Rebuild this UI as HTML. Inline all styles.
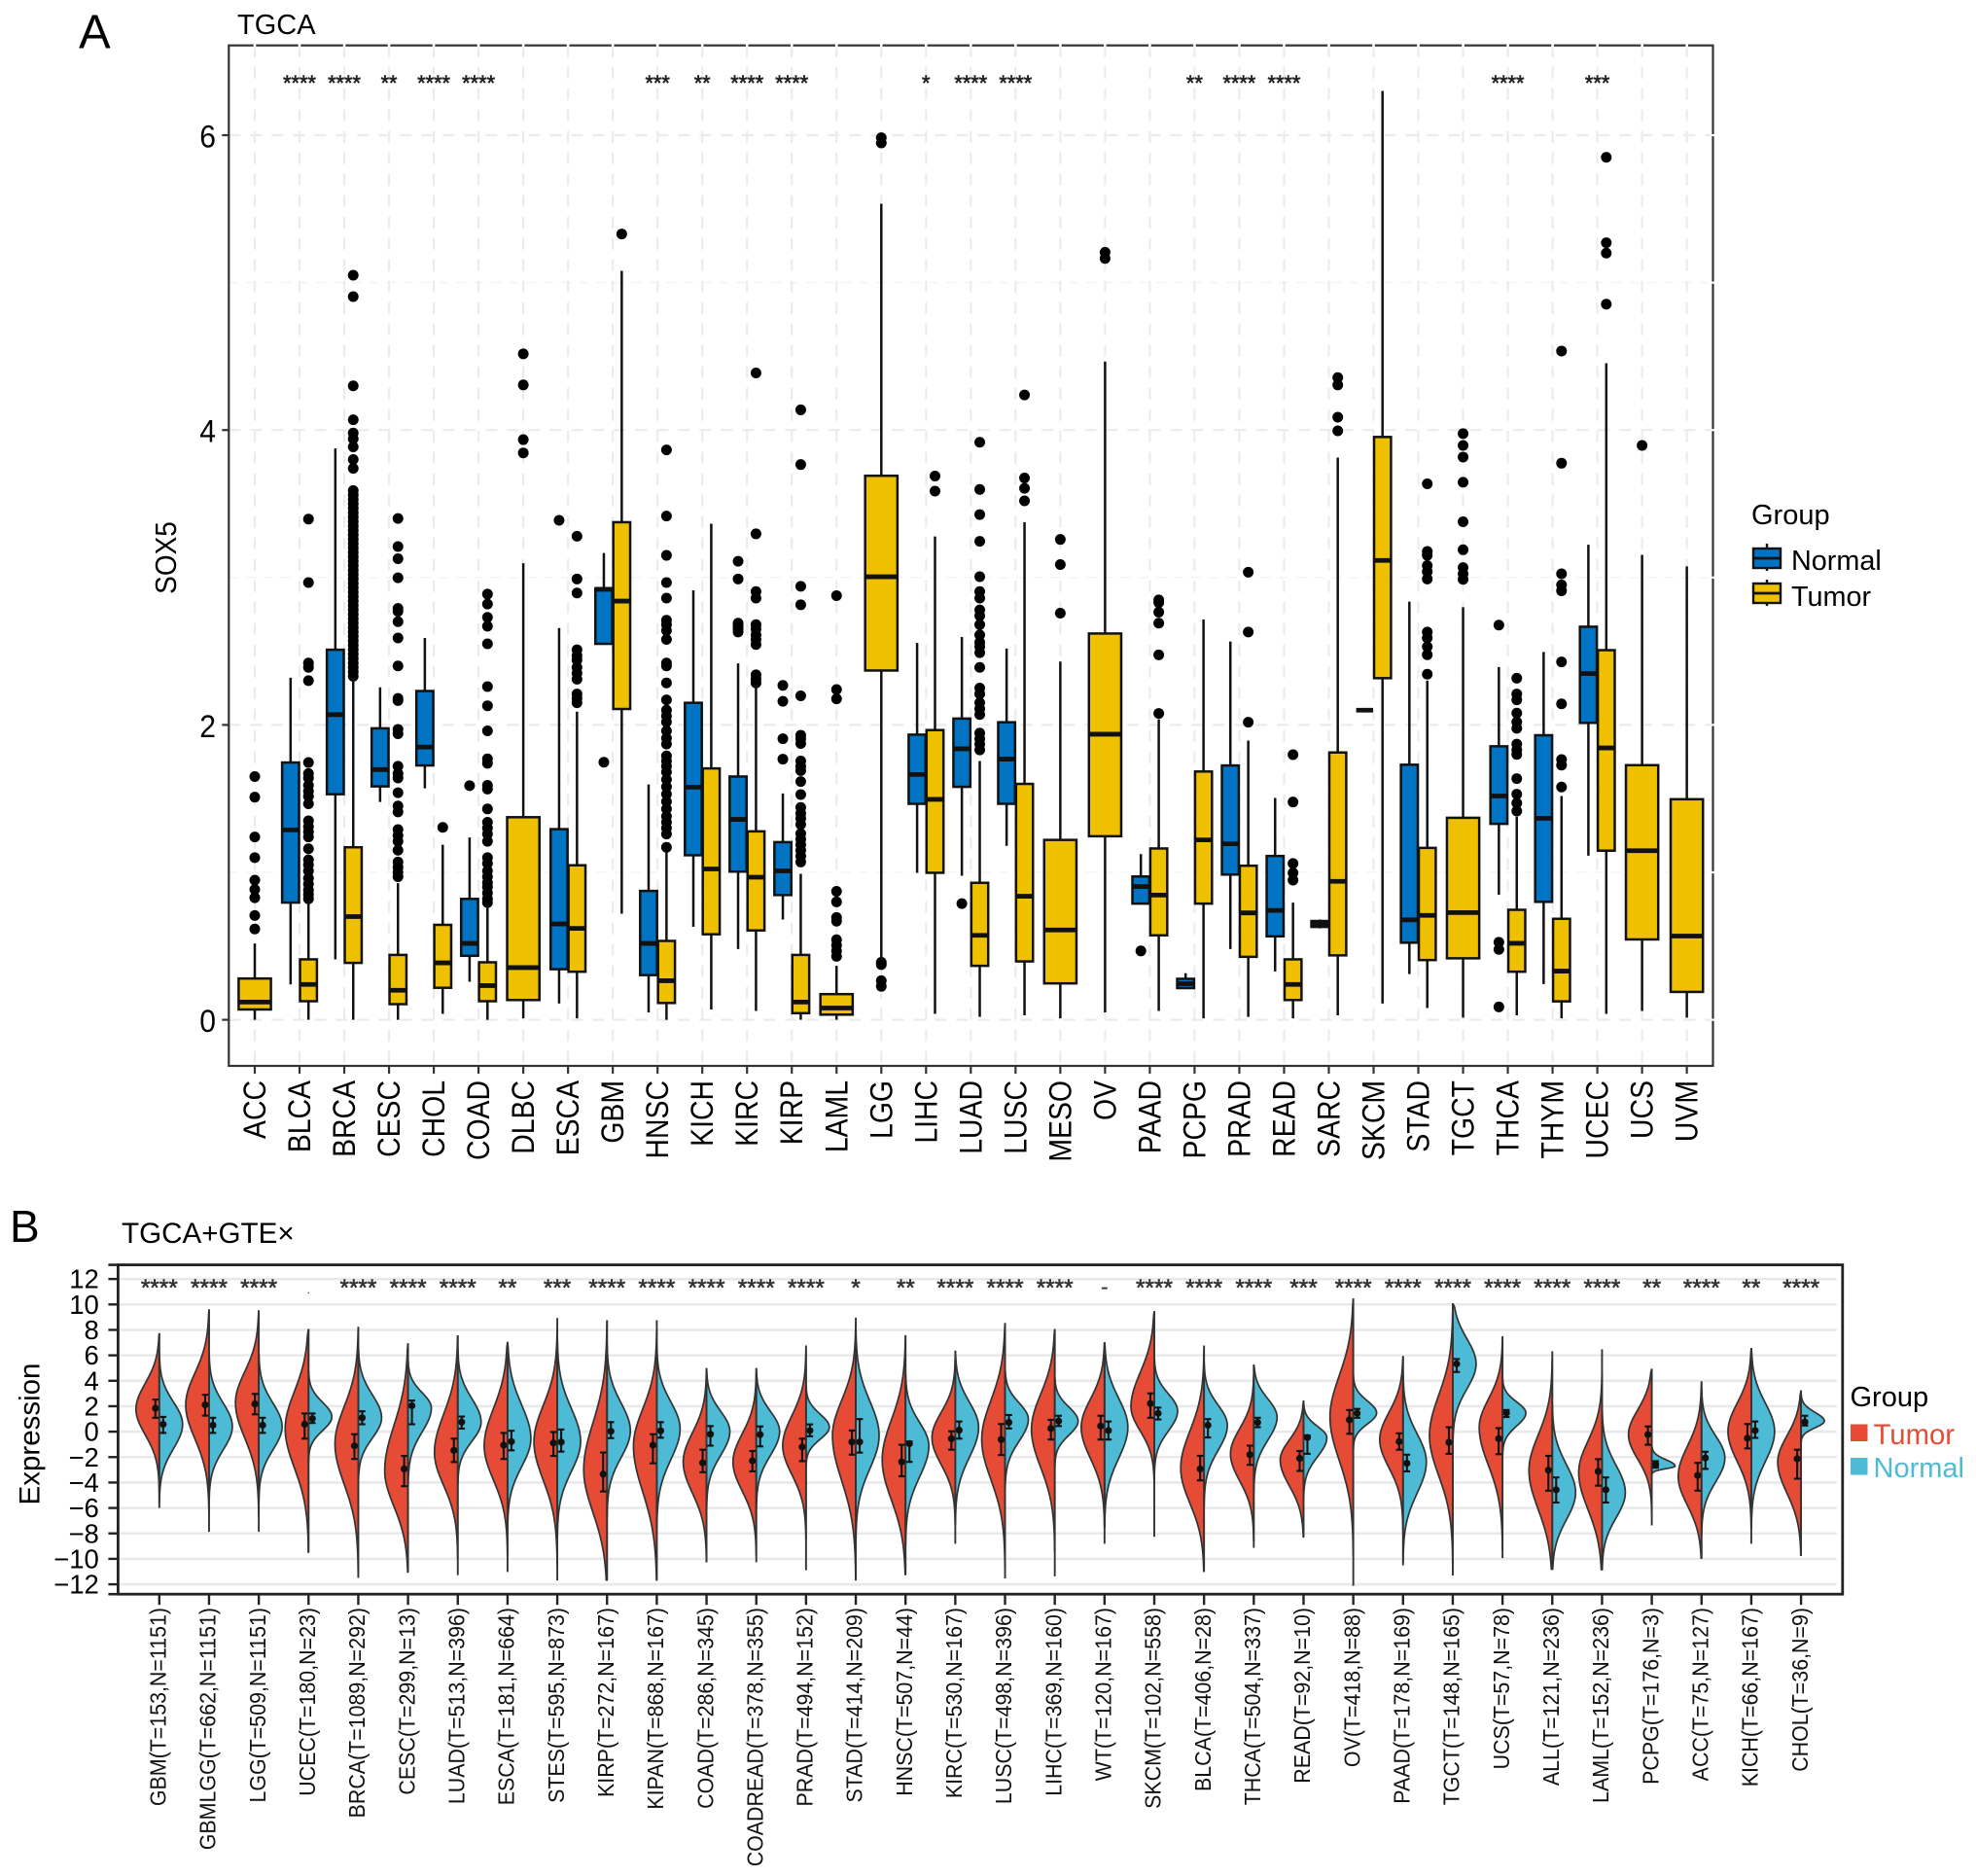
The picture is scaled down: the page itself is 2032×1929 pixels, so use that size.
<!DOCTYPE html>
<html lang="en">
<head>
<meta charset="utf-8">
<title>SOX5 expression: TGCA and TGCA+GTEx</title>
<style>
html,body{margin:0;padding:0;background:#fff;}
svg{display:block;font-family:"Liberation Sans",Arial,sans-serif;}
</style>
</head>
<body>
<svg id="figure" xmlns="http://www.w3.org/2000/svg" width="2032" height="1929" viewBox="0 0 2032 1929">
<rect x="0" y="0" width="2032" height="1929" fill="#fff"/>
<text x="81" y="49.5" font-size="49" fill="#000">A</text>
<text x="244" y="35" font-size="29" fill="#000">TGCA</text>
<text transform="translate(181,573.5) rotate(-90) scale(1,1.1)" text-anchor="middle" font-size="28" fill="#000">SOX5</text>
<g id="panelA"></g>
<g>
<text x="1801" y="539" font-size="29" fill="#000">Group</text>
<line x1="1817" x2="1817" y1="559" y2="587" stroke="#111" stroke-width="2.4"/>
<rect x="1803" y="564" width="28" height="20" fill="#0073C2" stroke="#111" stroke-width="2.4"/>
<line x1="1803" x2="1831" y1="574" y2="574" stroke="#111" stroke-width="2.8"/>
<text x="1842" y="586" font-size="28.8" fill="#000">Normal</text>
<line x1="1817" x2="1817" y1="596" y2="623" stroke="#111" stroke-width="2.4"/>
<rect x="1803" y="600" width="28" height="20" fill="#EFC000" stroke="#111" stroke-width="2.4"/>
<line x1="1803" x2="1831" y1="610" y2="610" stroke="#111" stroke-width="2.8"/>
<text x="1842" y="623" font-size="28.8" fill="#000">Tumor</text>
</g>
<text x="10" y="1277" font-size="46" fill="#000">B</text>
<text x="125" y="1278" font-size="29.6" fill="#000">TGCA+GTE×</text>
<text transform="translate(40.5,1474.5) rotate(-90)" text-anchor="middle" font-size="29.5" fill="#000">Expression</text>
<g id="panelB"></g>
<g>
<text x="1902.5" y="1446" font-size="29" fill="#000">Group</text>
<rect x="1903" y="1464.5" width="17.5" height="17.5" fill="#E64B35"/>
<text x="1926.5" y="1485" font-size="29.3" fill="#E64B35">Tumor</text>
<rect x="1903" y="1499" width="17.5" height="17.5" fill="#4DBBD5"/>
<text x="1926.5" y="1519" font-size="29" fill="#4DBBD5">Normal</text>
</g>
<script>
/* ---------- Panel A data ---------- */
const categoriesA = ["ACC","BLCA","BRCA","CESC","CHOL","COAD","DLBC","ESCA","GBM","HNSC","KICH","KIRC","KIRP","LAML","LGG","LIHC","LUAD","LUSC","MESO","OV","PAAD","PCPG","PRAD","READ","SARC","SKCM","STAD","TGCT","THCA","THYM","UCEC","UCS","UVM"];
const yTicksA = [0,2,4,6];
const yMinorA = [1,3,5];
const sigLabelsA = ["","****","****","**","****","****","","","","***","**","****","****","","","*","****","****","","","","**","****","****","","","","","****","","***","",""];

const normalLow = [null,.24,.41,1.477,1.57,.258,null,.11,2.55,.05,.631,.48,.68,null,null,.997,.977,1.18,null,null,.788,.215,.48,.328,.62,2.1,.31,null,.848,.242,1.113,null,null];
const normalQ1 = [null,.795,1.53,1.583,1.725,.434,null,.343,2.55,.303,1.116,1.005,.846,null,null,1.465,1.58,1.465,null,null,.788,.215,.985,.566,.63,2.1,.523,null,1.329,.8,2.014,null,null];
const normalMedian = [null,1.288,2.07,1.697,1.85,.518,null,.65,2.92,.518,1.578,1.359,1.01,null,null,1.664,1.838,1.768,null,null,.904,.245,1.194,.742,.65,2.1,.678,null,1.518,1.367,2.348,null,null];
const normalQ3 = [null,1.745,2.51,1.977,2.23,.82,null,1.293,2.927,.874,2.15,1.65,1.205,null,null,1.934,2.043,2.018,null,null,.972,.278,1.725,1.111,.67,2.1,1.73,null,1.855,1.93,2.666,null,null];
const normalHigh = [null,2.32,3.875,2.255,2.59,1.237,null,2.657,3.166,1.596,2.913,2.417,1.535,null,null,2.556,2.596,2.518,null,null,1.124,.316,2.566,1.505,.68,2.1,2.836,null,2.393,2.495,3.222,null,null];

const tumorLow = [0,0,0,0,.04,0,.01,.01,.72,0,.07,.06,0,0,.404,.04,.02,.03,.01,.05,.06,.01,.02,.01,.03,.11,.08,.015,.03,.01,.04,.06,.015];
const tumorQ1 = [.07,.126,.386,.106,.217,.126,.134,.326,2.108,.114,.58,.606,.045,.035,2.369,.997,.366,.396,.247,1.245,.573,.788,.427,.134,.437,2.317,.405,.417,.326,.125,1.147,.545,.189];
const tumorMedian = [.12,.24,.7,.2,.386,.232,.354,.62,2.84,.265,1.023,.967,.12,.08,3.005,1.495,.573,.838,.609,1.937,.846,1.22,.725,.24,.939,3.116,.708,.727,.519,.33,1.844,1.147,.568];
const tumorQ3 = [.28,.41,1.17,.44,.644,.39,1.374,1.048,3.375,.535,1.705,1.278,.44,.174,3.69,1.965,.929,1.6,1.22,2.62,1.162,1.684,1.045,.41,1.813,3.953,1.166,1.37,.746,.685,2.507,1.727,1.496];
const tumorHigh = [.518,.81,2.32,.927,1.187,.778,3.097,2.09,5.08,1.136,3.365,2.27,.99,.366,5.535,3.278,1.755,3.375,2.43,4.465,2.038,2.715,1.894,.795,3.813,6.3,2.3,2.798,1.378,1.518,4.453,3.154,3.075];

const normalOutliers = [[],[],[],[],[],[1.588],[],[3.388],[1.747],[],[],[3.11,2.99,2.69,2.67,2.65,2.63],[2.268,2.16,1.906,1.768],[],[],[],[.788],[],[],[],[.467],[],[],[],[],[],[],[],[2.677,.526,.477,.087],[],[],[],[]];
const tumorOutliers = [
[1.65,1.51,1.24,1.10,.947,.884,.828,.707,.616],
[3.396,2.966,2.42,2.39,2.30,1.745,1.67,1.64,1.59,1.55,1.515,1.465,1.35,1.31,1.275,1.24,1.16,1.085,1.05,1.01,.96,.92,.88,.85,.82],
[5.05,4.905,4.30,4.07,3.98,3.94,3.886,3.80,3.74,3.59,3.56,3.53,3.50,3.47,3.44,3.41,3.38,3.35,3.32,3.29,3.26,3.23,3.20,3.17,3.14,3.11,3.08,3.05,3.02,2.99,2.96,2.93,2.90,2.87,2.84,2.81,2.78,2.75,2.72,2.69,2.66,2.63,2.60,2.57,2.54,2.51,2.48,2.45,2.42,2.39,2.36,2.33],
[3.40,3.21,3.127,2.998,2.79,2.77,2.70,2.59,2.40,2.18,2.165,1.97,1.94,1.72,1.67,1.64,1.54,1.45,1.41,1.29,1.25,1.21,1.15,1.07,1.035,1.0,.97],
[1.305],
[2.887,2.82,2.73,2.67,2.55,2.26,2.13,1.96,1.77,1.74,1.59,1.565,1.43,1.34,1.30,1.26,1.21,1.10,1.06,1.01,.97,.93,.90,.86,.82,.795],
[4.517,4.306,3.935,3.845],
[3.28,2.99,2.895,2.51,2.47,2.44,2.39,2.35,2.31,2.21,2.18,2.15],
[5.33],
[3.865,3.417,3.15,2.966,2.86,2.71,2.68,2.64,2.58,2.42,2.40,2.285,2.17,2.10,2.06,2.02,1.96,1.91,1.87,1.79,1.755,1.72,1.68,1.63,1.58,1.53,1.48,1.43,1.38,1.34,1.30,1.26,1.17],
[],
[4.387,3.296,2.905,2.86,2.68,2.65,2.61,2.58,2.545,2.34,2.31,2.285],
[4.137,3.766,2.94,2.815,2.197,1.93,1.906,1.874,1.755,1.72,1.69,1.616,1.528,1.44,1.40,1.365,1.325,1.263,1.225,1.187,1.15,1.11,1.07],
[2.877,2.24,2.177,.871,.80,.694,.669,.543,.505,.467,.43],
[5.983,5.947,.39,.374,.265,.227],
[3.688,3.586],
[3.917,3.597,3.427,3.245,3.005,2.905,2.86,2.78,2.74,2.68,2.61,2.56,2.53,2.49,2.39,2.25,2.21,2.15,2.11,2.07,1.945,1.906,1.87,1.83],
[4.238,3.675,3.605,3.52],
[3.258,3.088,2.758],
[5.206,5.164],
[2.848,2.83,2.765,2.69,2.475,2.078],
[],
[3.036,2.63,2.018],
[1.798,1.477,1.06,.997,.947],
[4.356,4.306,4.087,3.995],
[],
[3.635,3.177,3.15,3.08,3.04,2.99,2.63,2.59,2.53,2.476,2.344],
[3.976,3.896,3.817,3.646,3.378,3.188,3.067,3.025,2.987],
[2.317,2.21,2.17,2.08,2.02,1.977,1.87,1.83,1.80,1.636,1.53,1.47,1.416],
[4.536,3.775,3.025,2.95,2.91,2.427,2.143,1.765,1.727,1.579],
[5.85,5.27,5.2,4.854],
[3.896],
[]
];

/* ---------- Panel B data ---------- */
const categoriesB = ["GBM(T=153,N=1151)","GBMLGG(T=662,N=1151)","LGG(T=509,N=1151)","UCEC(T=180,N=23)","BRCA(T=1089,N=292)","CESC(T=299,N=13)","LUAD(T=513,N=396)","ESCA(T=181,N=664)","STES(T=595,N=873)","KIRP(T=272,N=167)","KIPAN(T=868,N=167)","COAD(T=286,N=345)","COADREAD(T=378,N=355)","PRAD(T=494,N=152)","STAD(T=414,N=209)","HNSC(T=507,N=44)","KIRC(T=530,N=167)","LUSC(T=498,N=396)","LIHC(T=369,N=160)","WT(T=120,N=167)","SKCM(T=102,N=558)","BLCA(T=406,N=28)","THCA(T=504,N=337)","READ(T=92,N=10)","OV(T=418,N=88)","PAAD(T=178,N=169)","TGCT(T=148,N=165)","UCS(T=57,N=78)","ALL(T=121,N=236)","LAML(T=152,N=236)","PCPG(T=176,N=3)","ACC(T=75,N=127)","KICH(T=66,N=167)","CHOL(T=36,N=9)"];
const yTicksB = [12,10,8,6,4,2,0,-2,-4,-6,-8,-10,-12];
const sigLabelsB = ["****","****","****",".","****","****","****","**","***","****","****","****","****","****","*","**","****","****","****","-","****","****","****","***","****","****","****","****","****","****","**","****","**","****"];
const tailTop = [7.74,9.61,9.54,8.07,8.24,6.95,7.57,7.05,8.93,8.76,8.76,5.0,5.0,6.77,8.96,7.58,6.36,8.54,8.06,7.03,9.47,6.77,5.26,2.44,10.47,5.94,10.08,7.51,6.32,6.48,4.94,3.95,6.58,3.24];
const tailBottom = [-6,-7.88,-7.88,-9.47,-11.5,-11.03,-11.28,-11.03,-11.7,-11.66,-11.66,-10.27,-10.27,-10.9,-11.64,-11.22,-8.81,-11.54,-11.37,-8.81,-8.27,-10.97,-9.13,-8.27,-12.12,-10.51,-11.32,-9.94,-10.8,-10.84,-7.37,-9.94,-8.81,-9.71];
const tumorPeak = [1.77,2.11,2.28,.24,-.95,-3.07,-1.64,-1.12,-.78,-3,-1.12,-2.38,-2.38,-1.1,-.3,-2.22,-.46,-.62,.19,.35,1.95,-2.87,-1.74,-2.22,1.15,-.62,-.3,.35,-3.03,-3.19,-.23,-3.51,.03,-2.38];
const tumorBodyTop = [5.88,7.2,7.2,6.2,4.98,4.16,4.5,4.85,4.98,4.5,4.77,2.28,2.11,3.72,5.33,4.2,3.56,5.65,5.81,4.85,7.42,3.08,2.28,.99,7.74,3.72,6.13,4.85,2.6,1.79,3.72,1.31,4.52,1.79];
const tumorBodyBottom = [-2.32,-3.35,-3.35,-6.07,-7.43,-8.79,-6.93,-6.58,-6.93,-9.82,-8.45,-7.37,-7.04,-5.76,-7.53,-8.65,-4.79,-7.04,-5.92,-4.64,-1.9,-8.49,-6.08,-6.4,-5.76,-5.12,-6.73,-5.76,-9.29,-9.13,-4.15,-8.17,-4.79,-7.37];
const normalPeak = [.58,.41,.41,1.16,1.09,1.87,.75,-.55,-.78,.07,.24,.03,.03,.35,-.3,-1.1,.35,.99,.83,.35,1.63,.51,1.15,-.46,1.47,-2.38,5.33,1.47,-4.79,-4.79,-2.71,-2.06,.03,.83];
const normalBodyTop = [4.16,4.16,4.16,3.48,4.77,4.3,4.5,4.85,4.5,4.5,4.5,3.24,3.24,2.44,5.17,2.6,4.36,3.56,3.08,5,4.36,3.72,4.04,1.31,3.4,2.11,9.35,3.24,-.3,-.46,-1.68,1.47,4.52,2.21];
const normalBodyBottom = [-3.35,-3.35,-3.35,-1.02,-2.15,-1.98,-2.32,-5.04,-5.55,-4.2,-4.7,-3.83,-3.83,-1.58,-5.6,-6.08,-4.47,-2.54,-1.42,-4.64,-1.58,-3.51,-2.54,-3.51,-.3,-7.37,1.31,-.62,-9.13,-8.81,-3.12,-5.92,-4.79,-.23];
const tumorMean = [1.84,2.11,2.18,.58,-1.12,-2.93,-1.47,-1.06,-.89,-3.34,-1.06,-2.45,-2.29,-1.2,-.81,-2.38,-.55,-.62,.25,.44,2.21,-2.93,-1.81,-2.1,.93,-.78,-.84,-.55,-3.03,-3.12,-.23,-3.44,-.52,-2.13];
const tumorErrHigh = [2.52,2.9,2.97,1.43,-.2,-1.91,-.55,-.1,-.03,-1.64,-.2,-1.42,-1.52,-.55,.09,-1.03,.03,.6,.93,1.25,3.01,-1.9,-1.1,-1.52,1.7,-.13,.35,.28,-1.9,-2.16,.41,-2.45,.6,-1.42];
const tumorErrLow = [1.09,1.26,1.36,-.55,-2.15,-4.29,-2.39,-2.15,-1.91,-4.7,-2.49,-3.19,-3.12,-2.32,-1.81,-3.51,-1.42,-1.84,-.62,-.62,1.09,-3.83,-2.61,-3.09,-.17,-1.42,-1.74,-1.77,-4.64,-4.25,-1.03,-4.64,-1.32,-3.7];
const normalMean = [.58,.51,.51,1.02,1.09,2.04,.75,-.78,-.82,.03,.07,-.2,-.23,.09,-.81,-.94,.12,.73,.83,.09,1.44,.51,.73,-.46,1.44,-2.48,5.33,1.47,-4.57,-4.57,-2.58,-2.06,.09,.76];
const normalErrHigh = [1.16,1.09,1.09,1.43,1.6,2.45,1.19,.07,.17,.75,.75,.44,.41,.57,.99,-.78,.8,1.31,1.25,.8,1.89,.99,1.09,-.3,1.79,-1.81,5.71,1.7,-3.6,-3.6,-2.32,-1.58,.8,1.25];
const normalErrLow = [-.1,-.1,-.1,.68,.58,.58,.24,-1.47,-1.57,-.51,-.48,-1.1,-1.16,-.36,-1.65,-2.38,-.55,.25,.44,-.62,.96,-.46,.35,-1.74,1.09,-3.12,4.69,1.15,-5.57,-5.57,-2.83,-2.93,-.49,.48];

/* ---------- helpers ---------- */
const NS = "http://www.w3.org/2000/svg";
function mk(parent, tag, attrs) {
  const e = document.createElementNS(NS, tag);
  for (const k in attrs) e.setAttribute(k, attrs[k]);
  parent.appendChild(e);
  return e;
}

/* ---------- Panel A ---------- */
const gA = document.getElementById("panelA");
const A = {left:235.3, right:1761.5, top:46.7, bottom:1096};
const xA = i => 262 + i * 46.02;
const yA = v => 1048.6 - 151.6 * v;
const GROUP_OFFSET = 9.2, GROUP_W = 17.4, SINGLE_W = 33.2;

yMinorA.forEach(v => {
  const l = mk(gA, "line", {x1:A.left, x2:A.right, y1:yA(v), y2:yA(v), stroke:"#f5f5f5", "stroke-width":1.6, "stroke-dasharray":"10 8"});
  
  
});
yTicksA.forEach(v => {
  const l = mk(gA, "line", {x1:A.left, x2:A.right, y1:yA(v), y2:yA(v), stroke:"#ebebeb", "stroke-width":2.2, "stroke-dasharray":"12 10"});
  
  
});
categoriesA.forEach((c, i) => {
  const l = mk(gA, "line", {x1:xA(i), x2:xA(i), y1:A.top, y2:A.bottom, stroke:"#ececec", "stroke-width":2.2, "stroke-dasharray":"12 10"});
  
  
});
const borderA = mk(gA, "rect", {x:A.left, y:A.top, width:A.right - A.left, height:A.bottom - A.top, fill:"none", stroke:"#333", "stroke-width":2.2});


categoriesA.forEach((c, i) => {
  const gap = mk(gA, "line", {x1:xA(i), x2:xA(i), y1:A.top - 2, y2:A.top + 2, stroke:"#fff", "stroke-width":2.6});
  
  
});
yTicksA.concat(yMinorA).forEach(v => {
  const gap = mk(gA, "line", {x1:A.right - 2, x2:A.right + 2, y1:yA(v), y2:yA(v), stroke:"#fff", "stroke-width":2.2});
  
  
});
yTicksA.forEach(v => {
  const t = mk(gA, "line", {x1:A.left - 7, x2:A.left, y1:yA(v), y2:yA(v), stroke:"#333", "stroke-width":2.2});
  
  
  const lb = mk(gA, "text", {transform:"translate(222," + (yA(v) + 12.5) + ") scale(1.02,1.1)", "text-anchor":"end", "font-size":29.5, fill:"#000"});
  lb.textContent = String(v);
  
  
});

function drawBox(i, cx, w, fill, lo, q1, med, q3, hi, outs, name) {
  const g = mk(gA, "g", {});
  
  
  outs.forEach(v => {
    const d = mk(g, "circle", {cx:cx, cy:yA(v), r:5.5, fill:"#000"});
    
    
  });
  const wh = mk(g, "line", {x1:cx, x2:cx, y1:yA(hi), y2:yA(lo), stroke:"#111", "stroke-width":2.5});
  
  
  const r = mk(g, "rect", {x:cx - w / 2, y:yA(q3), width:w, height:Math.max(0, yA(q1) - yA(q3)), fill:fill, stroke:"#111", "stroke-width":2.5});
  
  
  const m = mk(g, "line", {x1:cx - w / 2, x2:cx + w / 2, y1:yA(med), y2:yA(med), stroke:"#111", "stroke-width":4.8});
  
  
}

categoriesA.forEach((c, i) => {
  const hasN = normalMedian[i] !== null;
  if (hasN) {
    drawBox(i, xA(i) - GROUP_OFFSET, GROUP_W, "#0073C2", normalLow[i], normalQ1[i], normalMedian[i], normalQ3[i], normalHigh[i], normalOutliers[i], "box-normal-" + c.toLowerCase());
  }
  const cx = hasN ? xA(i) + GROUP_OFFSET : xA(i);
  const w = hasN ? GROUP_W : SINGLE_W;
  drawBox(i, cx, w, "#EFC000", tumorLow[i], tumorQ1[i], tumorMedian[i], tumorQ3[i], tumorHigh[i], tumorOutliers[i], "box-tumor-" + c.toLowerCase());

  const t = mk(gA, "line", {x1:xA(i), x2:xA(i), y1:A.bottom, y2:A.bottom + 8, stroke:"#333", "stroke-width":2.2});
  
  
  const lb = mk(gA, "text", {transform:"translate(" + (xA(i) + 11) + ",1111) rotate(-90) scale(1,1.15)", "text-anchor":"end", "font-size":28.4, fill:"#000"});
  lb.textContent = c;
  
  
  if (sigLabelsA[i]) {
    const s = mk(gA, "text", {x:xA(i), y:92.8, "text-anchor":"middle", "font-size":21.8, fill:"#222", stroke:"#222", "stroke-width":0.6});
    s.textContent = sigLabelsA[i];
    
    
  }
});

/* ---------- Panel B ---------- */
const gB = document.getElementById("panelB");
const B = {left:121.4, right:1894.8, top:1300.6, bottom:1639.2};
const xB = i => 163.8 + i * 51.16;
const yB = v => 1472.1 - 13.08 * v;
const VIOLIN_W = 24, ERR_OFFSET = 4, BODY_K = 2.04, STEPS = 40;

yTicksB.forEach(v => {
  const l = mk(gB, "line", {x1:B.left, x2:B.right - 6, y1:yB(v), y2:yB(v), stroke:"#e9e9e9", "stroke-width":2.6});
  
  
  const t = mk(gB, "line", {x1:B.left - 10, x2:B.left, y1:yB(v), y2:yB(v), stroke:"#222", "stroke-width":2.4});
  
  
  const lb = mk(gB, "text", {x:101.8, y:yB(v) + 9.6, "text-anchor":"end", "font-size":27.5, fill:"#000"});
  lb.textContent = (v < 0 ? "\u2212" + Math.abs(v) : String(v));
  
  
});

function violinPath(cx, dir, peak, top, bottom, tTop, tBot) {
  const su = Math.max(0.05, (top - peak) / BODY_K);
  const sd = Math.max(0.05, (peak - bottom) / BODY_K);
  const start = Math.min(peak + su * 3.2, tTop), end = Math.max(peak - sd * 3.2, tBot);
  let d = "M" + cx + "," + yB(start);
  for (let k = 1; k <= STEPS; k++) {
    const v = start + (end - start) * k / STEPS;
    const s = v >= peak ? su : sd;
    const w = VIOLIN_W * Math.exp(-0.5 * Math.pow((v - peak) / s, 2));
    d += "L" + (cx + dir * w).toFixed(2) + "," + yB(v).toFixed(2);
  }
  return d + "L" + cx + "," + yB(end) + "Z";
}

function drawErr(parent, cx, mean, hi, lo, name) {
  const g = mk(parent, "g", {});
  
  
  const stem = mk(g, "line", {x1:cx, x2:cx, y1:yB(hi), y2:yB(lo), stroke:"#111", "stroke-width":2.1});
  
  
  [hi, lo].forEach(v => {
    const cap = mk(g, "line", {x1:cx - 3.3, x2:cx + 3.3, y1:yB(v), y2:yB(v), stroke:"#111", "stroke-width":2.1});
    
    
  });
  const p = mk(g, "circle", {cx:cx, cy:yB(mean), r:3.6, fill:"#111"});
  
  
}

categoriesB.forEach((c, i) => {
  const short = c.split("(")[0].toLowerCase();
  const cx = xB(i);
  const g = mk(gB, "g", {});
  
  
  const tv = mk(g, "path", {d:violinPath(cx, -1, tumorPeak[i], tumorBodyTop[i], tumorBodyBottom[i], tailTop[i], tailBottom[i]), fill:"#E64B35", stroke:"#333", "stroke-width":1.7});
  
  
  const nv = mk(g, "path", {d:violinPath(cx, 1, normalPeak[i], normalBodyTop[i], normalBodyBottom[i], tailTop[i], tailBottom[i]), fill:"#4DBBD5", stroke:"#333", "stroke-width":1.7});
  
  
  const tail = mk(g, "line", {x1:cx, x2:cx, y1:yB(tailTop[i]), y2:yB(tailBottom[i]), stroke:"#333", "stroke-width":1.9});
  
  
  drawErr(g, cx - ERR_OFFSET, tumorMean[i], tumorErrHigh[i], tumorErrLow[i], 'tumor-error-marker');
  drawErr(g, cx + ERR_OFFSET, normalMean[i], normalErrHigh[i], normalErrLow[i], 'normal-error-marker');

  const t = mk(gB, "line", {x1:cx, x2:cx, y1:B.bottom, y2:B.bottom + 11, stroke:"#222", "stroke-width":2.4});
  
  
  const lb = mk(gB, "text", {transform:"translate(" + (cx + 6.7) + ",1653) rotate(-90) scale(1,1.1)", "text-anchor":"end", "font-size":21.4, fill:"#111"});
  lb.textContent = c;
  
  

  const sig = sigLabelsB[i];
  const small = sig === ".";
  const s = mk(gB, "text", {x:cx, y:small ? 1330 : (sig === "-" ? 1331 : 1332), "text-anchor":"middle", "font-size":small ? 12 : 24.4, fill:"#333", stroke:"#333", "stroke-width":small || sig === "-" ? 0 : 0.6});
  s.textContent = sig;
  
  
});

const borderB = mk(gB, "rect", {x:B.left, y:B.top, width:B.right - B.left, height:B.bottom - B.top, fill:"none", stroke:"#222", "stroke-width":2.8});


[B.top, B.bottom].forEach(y => {
  const e = mk(gB, "line", {x1:B.left - 10, x2:B.left, y1:y, y2:y, stroke:"#222", "stroke-width":2.6});
  
  
});
</script>
</svg>
</body>
</html>
